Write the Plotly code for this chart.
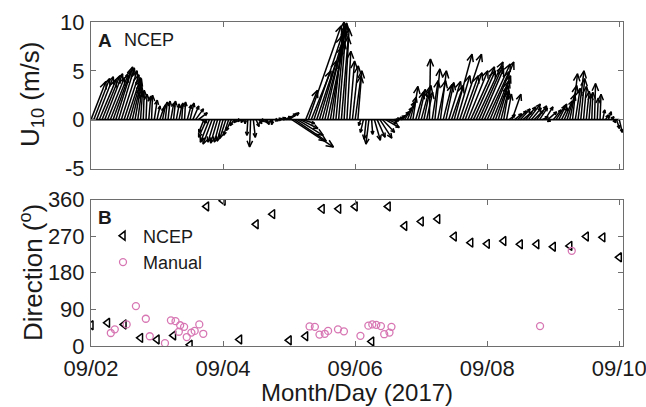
import math
import plotly.graph_objects as go

# ---------------- data ----------------
# Panel A: hourly NCEP wind vectors, hour 0 = 09/02/2017 00:00
HOURS = list(range(193))
U10_NORTH = [
    3.9, 4.2, 4.4, 4.1, 4.5, 4.7, 4.3, 4.6, 5.0, 5.4,
    5.3, 5.0, 4.6, 4.3, 4.2, 3.8, 3.4, 3.0, 2.8, 3.0,
    2.6, 2.4, 2.5, 2.0, 1.4, 1.2, 1.5, 1.8, 1.9, 1.7,
    1.9, 1.6, 1.5, 1.7, 1.8, 1.5, 1.7, 1.4, 1.1, 0.7,
    -0.3, -1.3, -1.8, -2.3, -2.5, -2.3, -2.4, -2.3, -2.2, -1.9,
    -1.6, -1.1, -0.6, -0.3, -0.2, -0.3, -0.4, -1.6, -2.8, -1.8,
    -0.7, -0.4, -0.2, -0.3, -0.5, -0.3, -0.5, -0.1, 0.1, 0.2,
    0.3, 0.6, 0.7, -2.8, -2.2, -1.6, -0.9, -0.4, 3.0, 9.6,
    5.0, 8.5, 6.0, 9.0, 7.5, 9.8, 8.0, 9.2, 10.0, 9.4,
    9.9, 8.5, 9.3, 7.0, 6.0, 5.5, 4.5, 5.0, -0.6, -1.3,
    -2.0, -2.5, -1.5, -2.1, -1.8, -1.9, -1.3, -0.8, -0.4, -0.1,
    0.1, 0.2, 0.4, 0.8, 1.2, 1.8, 2.3, 3.4, 2.8, 3.1,
    3.0, 3.5, 2.8, 6.2, 4.0, 5.2, 4.0, 5.0, 3.6, 3.8,
    3.9, 3.5, 6.7, 4.5, 6.7, 4.5, 4.8, 5.0, 5.4, 5.0,
    5.9, 5.5, 5.2, 5.7, 4.9, 5.9, 4.5, 4.0, 3.5, 2.8,
    3.0, 2.6, 0.5, 2.6, 0.6, 0.9, 1.1, 0.8, 1.3, 1.6,
    1.2, 0.9, 1.4, 1.2, 0.3, 1.3, 0.8, -0.2, 1.0, 1.4,
    1.6, 1.2, 1.9, 2.6, 3.5, 4.7, 3.2, 5.0, 4.2, 3.4,
    2.9, 2.6, 2.8, 3.7, 2.2, 2.6, 1.0, 0.5, 0.8, 0.3,
    -0.3, -0.9, -1.3,
]
U10_EAST = [
    4.5, 4.8, 5.1, 5.1, 5.4, 5.4, 5.1, 5.4, 5.4, 5.1,
    4.8, 4.8, 4.5, 4.2, 3.6, 2.7, 1.8, 1.2, 0.6, 0.3,
    0.3, 0.6, 0.3, 0.9, 0.9, 1.2, 0.9, 0.6, 0.6, 0.9,
    0.6, 0.9, 0.9, 0.3, 0.3, 1.2, 1.2, 1.8, 2.4, 2.7,
    1.8, -1.5, -2.4, -2.7, -2.7, -2.1, -2.1, -1.8, -1.8, -1.8,
    -1.5, -1.5, -1.2, -0.9, -0.6, -0.3, 0.0, -0.3, -0.3, 0.6,
    0.9, 0.9, 0.6, 0.9, 0.6, 0.9, -0.3, 0.9, 1.2, 1.5,
    2.4, 3.0, 3.0, 12.6, 9.6, 7.8, 5.4, 3.6, 3.6, 9.9,
    6.0, 8.4, 6.0, 7.8, 6.0, 6.6, 5.1, 4.5, 3.3, 2.7,
    2.4, 2.1, 1.5, 1.2, 1.5, 1.8, 1.8, 1.2, -0.6, -0.9,
    -0.6, -0.9, 0.3, 1.8, 2.4, 3.6, 3.6, 4.2, 2.7, 2.4,
    2.1, 2.1, 1.8, 2.1, 2.1, 2.1, 1.8, 1.5, 2.4, 2.1,
    2.4, 2.1, 1.8, 0.3, 1.8, 1.5, 2.4, 1.8, 2.7, 2.4,
    3.6, 3.6, 5.4, 3.9, 6.6, 4.8, 5.1, 6.0, 7.2, 6.6,
    8.1, 7.2, 6.6, 7.8, 6.6, 7.2, 5.4, 4.2, 3.0, 2.1,
    1.5, 1.5, 1.8, 2.7, 2.1, 2.7, 3.0, 2.7, 3.0, 3.6,
    3.0, 2.7, 3.0, 2.4, 1.8, 2.4, 2.7, -0.9, 2.4, 2.7,
    2.4, 1.8, 2.4, 2.4, 2.1, 1.5, 1.5, 1.8, 1.2, 0.9,
    0.9, 0.6, 0.3, 0.3, 0.3, 0.3, 0.6, 0.9, 0.9, 0.9,
    0.6, 0.9, 0.9,
]

# Panel B: 6-hourly NCEP direction and manual observations (days after 09/02 00:00)
NCEP_DAY = [0.0, 0.25, 0.5, 0.75, 1.0, 1.25, 1.5, 1.75, 2.0, 2.25, 2.5,
            2.75, 3.0, 3.25, 3.5, 3.75, 4.0, 4.25, 4.5, 4.75, 5.0, 5.25,
            5.5, 5.75, 6.0, 6.25, 6.5, 6.75, 7.0, 7.25, 7.5, 7.75, 8.0]
NCEP_DIR = [51, 57, 53, 20, 16, 26, 3, 343, 357, 16, 299, 324, 14, 24, 337,
            337, 343, 11, 343, 295, 306, 312, 269, 254, 251, 258, 250, 250,
            244, 246, 269, 267, 218]
MANUAL_DAY = [0.30, 0.36, 0.54, 0.68, 0.83, 0.89, 1.12, 1.21, 1.28, 1.33,
              1.35, 1.41, 1.45, 1.52, 1.57, 1.64, 1.70, 3.31, 3.39, 3.46,
              3.54, 3.59, 3.74, 3.83, 4.08, 4.20, 4.26, 4.32, 4.39, 4.44,
              4.52, 4.55, 6.80, 7.28]
MANUAL_DIR = [32, 41, 53, 98, 67, 24, 7, 63, 61, 35, 51, 47, 22, 33, 37, 53,
              30, 48, 47, 28, 30, 37, 41, 36, 25, 50, 53, 52, 49, 29, 33, 47,
              49, 234]

DATE_TICKS = [0, 2, 4, 6, 8]
DATE_LABELS = ["09/02", "09/04", "09/06", "09/08", "09/10"]
U_TICKS = [-5, 0, 5, 10]
U_LABELS = ["-5", "0", "5", "10"]
DIR_TICKS = [0, 90, 180, 270, 360]

# ---------------- layout constants ----------------
W, H = 646, 407
ML, MR, MT, MB = 91, 23, 22, 61
PLOT_W = W - ML - MR
PLOT_H = H - MT - MB
PANEL_H = 146.5
X_RANGE = [0, 8.056]
UA_RANGE = [-5, 10]
QSCALE = 0.05  # days of x-axis per m/s of eastward wind

PX_PER_DAY = PLOT_W / (X_RANGE[1] - X_RANGE[0])
PX_PER_MS = PANEL_H / (UA_RANGE[1] - UA_RANGE[0])

# ---------------- quiver geometry ----------------
qx, qy = [], []
for h, u, v in zip(HOURS, U10_EAST, U10_NORTH):
    t = h / 24.0
    tx = t + u * QSCALE
    ty = v
    dxp = u * QSCALE * PX_PER_DAY
    dyp = v * PX_PER_MS
    L = math.hypot(dxp, dyp)
    qx += [t, tx, None]
    qy += [0, ty, None]
    if L < 1.0:
        continue
    hl = min(max(3.5, 0.25 * L), 8.0)
    ang = math.atan2(dyp, dxp)
    phi = math.radians(24)
    w1 = (tx - hl * math.cos(ang + phi) / PX_PER_DAY, ty - hl * math.sin(ang + phi) / PX_PER_MS)
    w2 = (tx - hl * math.cos(ang - phi) / PX_PER_DAY, ty - hl * math.sin(ang - phi) / PX_PER_MS)
    qx += [w1[0], tx, w2[0], None]
    qy += [w1[1], ty, w2[1], None]

fig = go.Figure()
fig.add_trace(go.Scatter(x=[HOURS[0] / 24.0, HOURS[-1] / 24.0], y=[0, 0],
                         mode="lines", line=dict(color="black", width=1.8),
                         showlegend=False, hoverinfo="skip", xaxis="x", yaxis="y"))
fig.add_trace(go.Scatter(x=qx, y=qy, mode="lines",
                         line=dict(color="black", width=1.5),
                         showlegend=False, hoverinfo="skip", xaxis="x", yaxis="y"))

PINK = "#D776B3"
fig.add_trace(go.Scatter(x=NCEP_DAY, y=NCEP_DIR, mode="markers", name="NCEP",
                         marker=dict(symbol="triangle-left-open", size=8,
                                     color="black", line=dict(width=1.5)),
                         xaxis="x2", yaxis="y2"))
fig.add_trace(go.Scatter(x=MANUAL_DAY, y=MANUAL_DIR, mode="markers", name="Manual",
                         marker=dict(symbol="circle-open", size=7,
                                     color=PINK, line=dict(width=1.3)),
                         xaxis="x2", yaxis="y2"))

FRAME = "#6e6e6e"
TEXT = "#1a1a1a"
axis_common = dict(showline=True, linecolor=FRAME, linewidth=1, mirror="allticks",
                   ticks="inside", ticklen=5, tickcolor=FRAME, tickwidth=1,
                   showgrid=False, zeroline=False, automargin=False)

dom_a = [1 - PANEL_H / PLOT_H, 1]
dom_b = [0, PANEL_H / PLOT_H]

fig.update_layout(
    width=W, height=H,
    margin=dict(l=ML, r=MR, t=MT, b=MB, autoexpand=False),
    paper_bgcolor="white", plot_bgcolor="white",
    font=dict(family="Liberation Sans, Arial, sans-serif", size=22, color=TEXT),
    xaxis=dict(domain=[0, 1], anchor="y", range=X_RANGE, tickvals=DATE_TICKS,
               showticklabels=False, **axis_common),
    yaxis=dict(domain=dom_a, anchor="x", range=UA_RANGE, tickvals=U_TICKS,
               ticktext=U_LABELS, ticklabelstandoff=1, **axis_common),
    xaxis2=dict(domain=[0, 1], anchor="y2", range=X_RANGE, tickvals=DATE_TICKS,
                ticktext=DATE_LABELS, ticklabeloverflow="allow",
                ticklabelstandoff=3, **axis_common),
    yaxis2=dict(domain=dom_b, anchor="x2", range=[0, 360], tickvals=DIR_TICKS,
                ticklabelstandoff=1, **axis_common),
    legend=dict(x=(103 - ML) / PLOT_W, y=(H - MB - 217.5) / PLOT_H,
                xanchor="left", yanchor="top", bgcolor="rgba(0,0,0,0)",
                font=dict(size=18, color=TEXT), tracegroupgap=0, itemwidth=30),
    showlegend=True,
)


def px_x(xp):
    return (xp - ML) / PLOT_W


def px_y(yp):
    return (H - MB - yp) / PLOT_H


ann = [
    dict(text="<b>A</b>", x=px_x(96), y=px_y(40), xanchor="left", yanchor="middle",
         font=dict(size=19)),
    dict(text="NCEP", x=px_x(122), y=px_y(40), xanchor="left", yanchor="middle",
         font=dict(size=18)),
    dict(text="<b>B</b>", x=px_x(96), y=px_y(217), xanchor="left", yanchor="middle",
         font=dict(size=19)),
    dict(text="U<sub>10</sub> (m/s)", x=px_x(31), y=px_y(95), xanchor="center",
         yanchor="middle", textangle=-90, font=dict(size=26)),
    dict(text="Direction (<sup>o</sup>)", x=px_x(31), y=px_y(273), xanchor="center",
         yanchor="middle", textangle=-90, font=dict(size=26)),
    dict(text="Month/Day (2017)", x=0.5, y=px_y(392.5), xanchor="center",
         yanchor="middle", font=dict(size=24)),
]
for a in ann:
    a.update(xref="paper", yref="paper", showarrow=False)
fig.update_layout(annotations=ann)

fig.write_html("out.html")
